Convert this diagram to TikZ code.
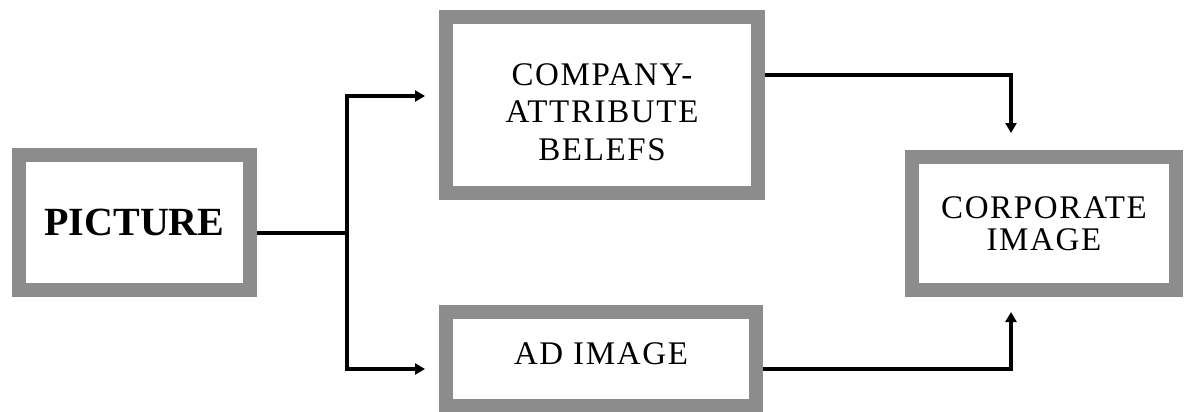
\documentclass[tikz,border=0pt]{standalone}
\usepackage{fontspec}
\setmainfont{Liberation Serif}
\newfontfamily\boxfont{Liberation Serif}[LetterSpace=5]
\usetikzlibrary{arrows.meta}

\tikzset{
  frame/.style={draw=black!45, line width=14pt, fill=white, outer sep=7pt,
    inner sep=0pt, align=center},
  conn/.style={line width=3.6pt, line join=miter, black},
  arr/.style={conn, -{Triangle[length=10pt,width=11pt]}}
}

\begin{document}
\begin{tikzpicture}[x=1pt,y=-1pt]
  \useasboundingbox (0,0) rectangle (1184,412);

  % boxes (outer size = minimum size + border width)
  \node[frame, minimum width=231pt, minimum height=135pt,
        font=\fontsize{40}{44}\selectfont\bfseries] (pic) at (134.5,222.5) {PICTURE};
  \node[frame, minimum width=312pt, minimum height=176pt,
        font=\fontsize{33}{37.5}\selectfont\boxfont] (cab) at (602,105)
        {\rule{0pt}{36pt}COMPANY-\\ATTRIBUTE\\BELEFS};
  \node[frame, minimum width=310pt, minimum height=94pt,
        font=\fontsize{33}{36}\selectfont\boxfont] (ad) at (601,359)
        {AD IMAGE\rule[-10pt]{0pt}{10pt}};
  \node[frame, minimum width=264pt, minimum height=133pt,
        font=\fontsize{33}{32}\selectfont\boxfont] (corp) at (1044,223.5)
        {CORPORATE\\IMAGE};

  % branching connectors
  \coordinate (split) at (347,233);
  \draw[conn] (pic.east |- split) -- (split);
  \draw[arr] (split) |- ([xshift=-14pt,yshift=9pt]cab.west);
  \draw[arr] (split) |- ([xshift=-14pt,yshift=-10pt]ad.west);
  \draw[arr] ([yshift=30pt]cab.east) -| ([xshift=-33pt,yshift=17pt]corp.north);
  \draw[arr] ([yshift=-10pt]ad.east) -| ([xshift=-33pt,yshift=-15pt]corp.south);
\end{tikzpicture}
\end{document}
